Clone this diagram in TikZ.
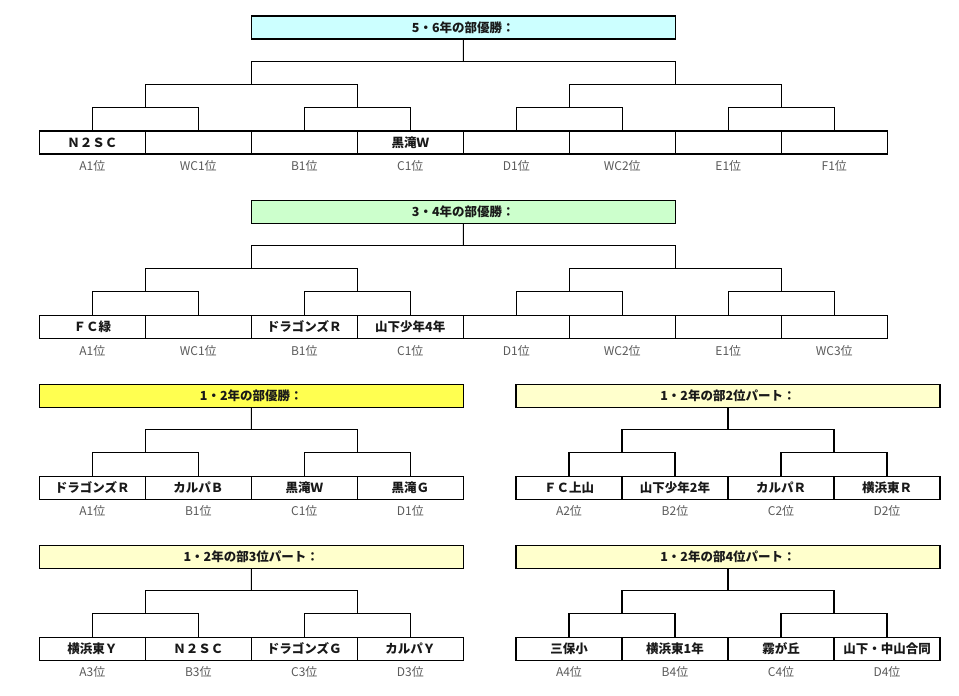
\documentclass[tikz,border=0pt]{standalone}
\usepackage{fontspec}
\setmainfont{Noto Sans CJK JP}
\usetikzlibrary{calc}
\definecolor{cyanbox}{RGB}{204,255,255}
\definecolor{greenbox}{RGB}{204,255,204}
\definecolor{yellowbox}{RGB}{255,255,80}
\definecolor{paleyellow}{RGB}{255,255,204}
\definecolor{lblgray}{RGB}{90,90,90}
\newcommand\bjoin[3]{%
  \coordinate (#3) at ($(#1)!.5!(#2)+(0,-23)$);
  \draw[conn] (#1) |- (#3) -| (#2);}
\begin{document}
\begin{tikzpicture}[x=1pt,y=-1pt,
  leaf/.style={draw, line width=1.1pt, minimum width=106pt, minimum height=23pt, inner sep=0pt,
    font=\fontsize{12.5}{14}\selectfont\bfseries, text=black!90},
  titlebox/.style={leaf, minimum width=424pt},
  lbl/.style={font=\fontsize{12}{14}\selectfont, text=lblgray, inner sep=0pt},
  conn/.style={line width=1.1pt}]
\useasboundingbox[fill=white] (0,0) rectangle (959,696);

% ---------------- Section 1: 5・6年 ----------------
\node[titlebox, fill=cyanbox] (t1) at (463.3,27.5) {5・6年の部優勝：};
\node[leaf] (s1a) at (92.3,142.5) {Ｎ２ＳＣ};
\node[leaf] (s1b) at (198.3,142.5) {};
\node[leaf] (s1c) at (304.3,142.5) {};
\node[leaf] (s1d) at (410.3,142.5) {黒滝Ｗ};
\node[leaf] (s1e) at (516.3,142.5) {};
\node[leaf] (s1f) at (622.3,142.5) {};
\node[leaf] (s1g) at (728.3,142.5) {};
\node[leaf] (s1h) at (834.3,142.5) {};
\node[lbl] (l1a) at (92.3,166) {A1位};
\node[lbl] (l1b) at (198.3,166) {WC1位};
\node[lbl] (l1c) at (304.3,166) {B1位};
\node[lbl] (l1d) at (410.3,166) {C1位};
\node[lbl] (l1e) at (516.3,166) {D1位};
\node[lbl] (l1f) at (622.3,166) {WC2位};
\node[lbl] (l1g) at (728.3,166) {E1位};
\node[lbl] (l1h) at (834.3,166) {F1位};
\bjoin{s1a.north}{s1b.north}{s1ab}
\bjoin{s1c.north}{s1d.north}{s1cd}
\bjoin{s1e.north}{s1f.north}{s1ef}
\bjoin{s1g.north}{s1h.north}{s1gh}
\bjoin{s1ab}{s1cd}{s1ad}
\bjoin{s1ef}{s1gh}{s1eh}
\bjoin{s1ad}{s1eh}{s1ah}
\draw[conn] (s1ah) -- (t1.south);

% ---------------- Section 2: 3・4年 ----------------
\node[titlebox, fill=greenbox] (t2) at (463.3,211.6) {3・4年の部優勝：};
\node[leaf] (s2a) at (92.3,326.8) {ＦＣ緑};
\node[leaf] (s2b) at (198.3,326.8) {};
\node[leaf] (s2c) at (304.3,326.8) {ドラゴンズＲ};
\node[leaf] (s2d) at (410.3,326.8) {山下少年4年};
\node[leaf] (s2e) at (516.3,326.8) {};
\node[leaf] (s2f) at (622.3,326.8) {};
\node[leaf] (s2g) at (728.3,326.8) {};
\node[leaf] (s2h) at (834.3,326.8) {};
\node[lbl] (l2a) at (92.3,350.5) {A1位};
\node[lbl] (l2b) at (198.3,350.5) {WC1位};
\node[lbl] (l2c) at (304.3,350.5) {B1位};
\node[lbl] (l2d) at (410.3,350.5) {C1位};
\node[lbl] (l2e) at (516.3,350.5) {D1位};
\node[lbl] (l2f) at (622.3,350.5) {WC2位};
\node[lbl] (l2g) at (728.3,350.5) {E1位};
\node[lbl] (l2h) at (834.3,350.5) {WC3位};
\bjoin{s2a.north}{s2b.north}{s2ab}
\bjoin{s2c.north}{s2d.north}{s2cd}
\bjoin{s2e.north}{s2f.north}{s2ef}
\bjoin{s2g.north}{s2h.north}{s2gh}
\bjoin{s2ab}{s2cd}{s2ad}
\bjoin{s2ef}{s2gh}{s2eh}
\bjoin{s2ad}{s2eh}{s2ah}
\draw[conn] (s2ah) -- (t2.south);

% ---------------- Section 3 left: 1・2年 優勝 ----------------
\node[titlebox, fill=yellowbox] (t3) at (251.3,395.8) {1・2年の部優勝：};
\node[leaf] (s3a) at (92.3,487.8) {ドラゴンズＲ};
\node[leaf] (s3b) at (198.3,487.8) {カルパＢ};
\node[leaf] (s3c) at (304.3,487.8) {黒滝Ｗ};
\node[leaf] (s3d) at (410.3,487.8) {黒滝Ｇ};
\node[lbl] (l3a) at (92.3,511.3) {A1位};
\node[lbl] (l3b) at (198.3,511.3) {B1位};
\node[lbl] (l3c) at (304.3,511.3) {C1位};
\node[lbl] (l3d) at (410.3,511.3) {D1位};
\bjoin{s3a.north}{s3b.north}{s3ab}
\bjoin{s3c.north}{s3d.north}{s3cd}
\bjoin{s3ab}{s3cd}{s3ad}
\draw[conn] (s3ad) -- (t3.south);

% ---------------- Section 3 right: 2位パート ----------------
\node[titlebox, fill=paleyellow] (t4) at (728,395.8) {1・2年の部2位パート：};
\node[leaf] (s4a) at (569,487.8) {ＦＣ上山};
\node[leaf] (s4b) at (675,487.8) {山下少年2年};
\node[leaf] (s4c) at (781,487.8) {カルパＲ};
\node[leaf] (s4d) at (887,487.8) {横浜東Ｒ};
\node[lbl] (l4a) at (569,511.3) {A2位};
\node[lbl] (l4b) at (675,511.3) {B2位};
\node[lbl] (l4c) at (781,511.3) {C2位};
\node[lbl] (l4d) at (887,511.3) {D2位};
\bjoin{s4a.north}{s4b.north}{s4ab}
\bjoin{s4c.north}{s4d.north}{s4cd}
\bjoin{s4ab}{s4cd}{s4ad}
\draw[conn] (s4ad) -- (t4.south);

% ---------------- Section 4 left: 3位パート ----------------
\node[titlebox, fill=paleyellow] (t5) at (251.3,556.6) {1・2年の部3位パート：};
\node[leaf] (s5a) at (92.3,648.8) {横浜東Ｙ};
\node[leaf] (s5b) at (198.3,648.8) {Ｎ２ＳＣ};
\node[leaf] (s5c) at (304.3,648.8) {ドラゴンズＧ};
\node[leaf] (s5d) at (410.3,648.8) {カルパＹ};
\node[lbl] (l5a) at (92.3,672) {A3位};
\node[lbl] (l5b) at (198.3,672) {B3位};
\node[lbl] (l5c) at (304.3,672) {C3位};
\node[lbl] (l5d) at (410.3,672) {D3位};
\bjoin{s5a.north}{s5b.north}{s5ab}
\bjoin{s5c.north}{s5d.north}{s5cd}
\bjoin{s5ab}{s5cd}{s5ad}
\draw[conn] (s5ad) -- (t5.south);

% ---------------- Section 4 right: 4位パート ----------------
\node[titlebox, fill=paleyellow] (t6) at (728,556.6) {1・2年の部4位パート：};
\node[leaf] (s6a) at (569,648.8) {三保小};
\node[leaf] (s6b) at (675,648.8) {横浜東1年};
\node[leaf] (s6c) at (781,648.8) {霧が丘};
\node[leaf] (s6d) at (887,648.8) {山下・中山合同};
\node[lbl] (l6a) at (569,672) {A4位};
\node[lbl] (l6b) at (675,672) {B4位};
\node[lbl] (l6c) at (781,672) {C4位};
\node[lbl] (l6d) at (887,672) {D4位};
\bjoin{s6a.north}{s6b.north}{s6ab}
\bjoin{s6c.north}{s6d.north}{s6cd}
\bjoin{s6ab}{s6cd}{s6ad}
\draw[conn] (s6ad) -- (t6.south);
\end{tikzpicture}
\end{document}
